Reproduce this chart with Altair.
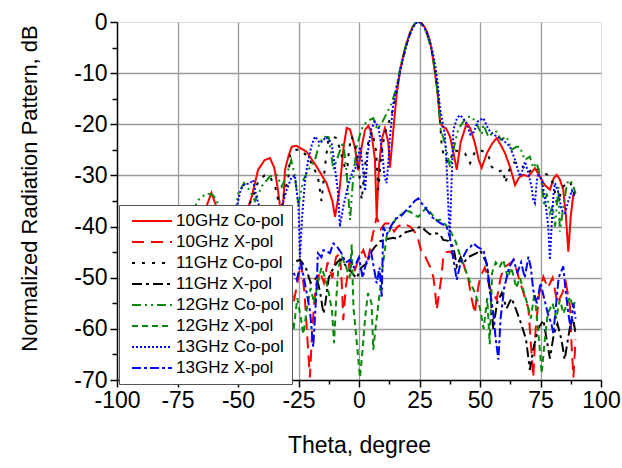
import altair as alt
import pandas as pd

# ---------------- data ----------------
names = ["10GHz Co-pol", "10GHz X-pol", "11GHz Co-pol", "11GHz X-pol",
         "12GHz Co-pol", "12GHz X-pol", "13GHz Co-pol", "13GHz X-pol"]
colors = ["#ff0000", "#ff0000", "#000000", "#000000",
          "#0a8a0a", "#0a8a0a", "#0000ff", "#0000ff"]
dashes = [[1, 0], [12, 7], [3, 7], [10, 4, 3, 4],
          [9, 4, 2, 4, 2, 4], [6, 4], [2, 2], [9, 3, 3, 3]]

theta_10co = [-90, -85, -80, -75, -70, -66, -63, -61, -59, -57, -54, -50, -47, -44.3, -41.7, -39, -36.8, -35,
              -33.5, -32.6, -32, -31, -30.6, -29, -27.8, -26, -24.4, -21.6, -17.5, -13.4, -11, -9.9, -8.8, -7.9,
              -6.5, -5.1, -3.7, -1.7, -0.3, 1.1, 2.5, 3.9, 5.2, 6.6, 7.3, 8.3, 9.4, 10.7, 12.1, 12.8, 14.2, 15.6,
              17, 18, 19, 20, 21, 22, 23, 24, 25, 26, 27, 28, 29, 30, 31.4, 32.5, 33.5, 34.5, 36, 37.6, 39, 40.4,
              42, 44.5, 46, 47.9, 49.5, 50.7, 52.8, 55, 56.9, 58.5, 60.3, 62.5, 64.5, 66, 67.9, 70, 72.7, 74.5,
              76.8, 78.9, 80.5, 81.7, 83, 84.4, 85.5, 86.5, 87.5, 88.5, 89.2]
db_10co = [-50, -45, -52, -42, -48, -40, -36, -33.4, -36, -45, -55, -42, -38, -34.1, -28.9, -27, -26.6, -28.5,
           -32.8, -36.2, -40, -33, -28.9, -26, -24.4, -24.2, -24.6, -25.4, -28.3, -31.5, -35, -38.1, -35, -32.2,
           -25, -20.7, -21, -24.5, -29, -24.4, -21.1, -20.3, -21.8, -27, -38, -28, -23, -20.8, -23.5, -28.5, -21,
           -14, -9.5, -7.2, -5.2, -3.6, -2.2, -1.1, -0.4, 0, 0, -0.3, -0.9, -1.8, -3.2, -5.4, -10, -14, -19.5,
           -20.5, -20.8, -22.4, -25.5, -28.9, -23.5, -19.8, -20.8, -23.7, -27, -28.5, -25.7, -23.8, -22.7, -24,
           -25.6, -28.5, -31.9, -30.5, -29.9, -30.2, -28.6, -30, -31.9, -32.8, -30.5, -29.9, -30.8, -32.8, -38,
           -44.9, -38, -34, -33.2]

theta_10x = [-90, -86, -82, -78, -74, -70, -66, -62, -58, -54, -50, -46, -42, -38, -34, -31, -29, -27, -25.5,
             -24, -22.5, -21.3, -20.3, -19.3, -18, -16.1, -14.5, -13, -11, -9.5, -7.9, -7, -6.5, -5.5, -4, -2, 0,
             1.8, 3.5, 5.5, 7.3, 9, 10.7, 12.8, 14.5, 16, 18.3, 21.1, 23, 24.5, 25.9, 27.5, 29.3, 30.7, 31.4,
             32.1, 32.8, 34.1, 34.8, 36, 37.6, 40, 43.1, 45.2, 46.5, 47.9, 48.6, 50, 52, 54, 56.9, 58.5, 60, 62.4,
             64, 66, 68, 70, 71.3, 72, 73, 74.5, 76.2, 78, 80, 82, 84, 85.5, 87.2, 87.8, 88.6, 89.5]
db_10x = [-60, -66, -58, -62, -55, -60, -52, -57, -50, -55, -52, -58, -50, -54, -48, -52, -49, -55, -51, -47,
          -53, -62, -69.5, -60, -52, -48.8, -51, -47, -50, -46, -45.2, -52, -58.3, -52, -47, -49, -46, -44.6, -47,
          -42, -38.1, -40.5, -39.4, -39.4, -41, -40, -39.4, -40, -41, -42.6, -45.2, -46, -47.8, -49.8, -52.4,
          -56.3, -54, -49.8, -46, -45, -44.9, -46, -47.2, -50.4, -54, -57, -53.7, -50, -48, -52, -54.3, -50, -48,
          -47.2, -46.5, -50, -53, -56, -64.8, -69.5, -60, -53, -49.8, -52, -50, -55, -53, -51, -55.7, -62.8,
          -69.5, -62]

theta_11co = [-90, -84, -78, -72, -66, -62, -58, -54, -50, -47, -45, -43, -41.7, -39, -36.8, -34, -32.5, -30.6,
              -29.3, -28.5, -26.5, -23.7, -20.3, -17, -15.5, -14, -12.7, -10.5, -9.2, -6.6, -5.1, -4, -3, -1, 0.2,
              1.1, 2.5, 4, 5.5, 7, 8, 9, 10.5, 12, 13.5, 15, 16, 17, 18, 19, 20, 21, 22, 23, 24, 25, 26, 27, 28, 29,
              30, 31, 32, 33, 34.1, 34.8, 36, 37.5, 39, 41.7, 43.8, 45.9, 47.9, 50, 52, 53.4, 54.8, 56, 57.6, 59.5,
              60.5, 62, 64, 66.5, 68, 70, 72, 74.8, 76.5, 78.9, 80.5, 81.7, 83, 84.4, 86, 87.2, 88.5, 89.5]
db_11co = [-48, -42, -50, -44, -38, -37, -42, -40, -37, -36.5, -35.4, -33.2, -31.2, -30, -30.2, -33, -38, -32.5,
           -31.2, -26, -25, -25, -27, -30.2, -35, -28, -23.1, -22.5, -22.7, -27, -29.9, -24.5, -22.4, -25, -30,
           -34.8, -28, -23, -21.5, -25, -32.8, -27, -22, -20, -18, -15, -12, -9.5, -7.5, -5.6, -3.9, -2.4, -1.2,
           -0.4, 0, -0.1, -0.4, -1.1, -2.1, -3.6, -5.5, -8, -11.5, -16, -23.7, -25.7, -27, -27.5, -25, -25.4,
           -25.7, -27.6, -25.4, -25, -25.5, -26, -28.3, -28.8, -29.3, -28.9, -31.5, -29, -27.5, -27.6, -28.5,
           -29.5, -28.5, -28.9, -29.5, -30.2, -32, -35.4, -34, -32.2, -31.5, -31.2, -33, -34]

theta_11x = [-90, -86, -82, -78, -74, -70, -66, -62, -58, -54, -50, -46, -42, -38, -34, -31, -28.5, -26.5, -24.4,
             -22, -20, -18.2, -17.5, -16, -14.7, -14.1, -12.5, -10.5, -9, -7.9, -7.2, -5, -3, -1, 1, 3.2, 5, 6.5,
             8.7, 11, 14.2, 16, 18.3, 20, 22.4, 23.9, 25.9, 27.5, 29.3, 31.5, 33.5, 34.8, 36.9, 39, 40.4, 42, 43.1,
             45, 48.6, 50, 52.8, 54.1, 55.5, 57, 59, 61, 63, 65.1, 67, 69, 70.6, 72, 74, 76.2, 77.5, 78.9, 80.5,
             82, 83.7, 85, 86, 87.2, 88.5, 89.5]
db_11x = [-62, -57, -64, -56, -60, -54, -58, -52, -56, -50, -53, -49, -52, -48, -50, -47, -47.8, -46.9, -46.5,
          -48, -51, -50.4, -49.8, -53, -57, -55.7, -50, -48, -47, -46.5, -46.5, -48, -49, -50.1, -48, -47.2, -45,
          -44, -42.9, -42.5, -42.2, -42.4, -41.3, -41, -40.7, -40.3, -40, -40.8, -41.5, -41.3, -41.5, -42.6,
          -42.8, -43.9, -47.8, -46, -47.2, -46, -45.2, -44.6, -47.2, -52.4, -60, -55, -53, -56, -54, -56.5, -59,
          -62, -68, -64, -60, -58.3, -62, -65.8, -61, -59, -62.2, -66, -63, -59.6, -58, -61]

theta_12co = [-90, -85, -80, -75, -70, -66.4, -63, -60.5, -58.8, -57, -54, -51, -49.9, -47.5, -45, -43, -40,
              -36.8, -34, -31.9, -30, -28, -26.5, -25.1, -23, -20.9, -18.2, -16.5, -14.7, -12.5, -10.6, -8.5,
              -6.5, -5, -3.7, -2.5, -1, 1, 3, 5.9, 7.5, 9.4, 11.4, 13.5, 15, 16, 17, 18, 19, 20, 21, 22, 23, 24, 25,
              26, 27, 28, 29, 30, 31, 32, 33, 33.5, 35.5, 37.6, 39.5, 41, 43.1, 45, 46.6, 48.5, 50.7, 51.4, 53.5,
              55, 56.9, 58.5, 61, 63, 65.1, 66.5, 68.5, 70.6, 72, 73.4, 75.5, 76.5, 77.6, 78.9, 80, 81, 82.4, 83,
              84.5, 86, 87.2, 88.6, 89.5]
db_12co = [-45, -40, -47, -40, -38, -34.8, -33.5, -33.8, -34.8, -38, -42, -37, -33.5, -31.5, -33, -35, -32,
           -30.2, -29.9, -32.2, -30, -27, -30, -35.8, -30.9, -28.9, -27, -24, -22.4, -22.5, -28.9, -26, -23.4,
           -30, -38.7, -31, -24.5, -21, -19.5, -18.8, -21, -19.8, -17.9, -15.9, -13.5, -11.5, -9, -7, -5.2, -3.6,
           -2.2, -1.1, -0.4, 0, -0.1, -0.5, -1.2, -2.3, -3.8, -5.8, -8.3, -11.8, -16, -20.5, -23.7, -28.3, -24,
           -21, -19.5, -18.6, -18.5, -19.8, -22, -20.1, -22.5, -21.8, -21.4, -23, -22.4, -25, -24.4, -24.4, -27,
           -26.3, -28.5, -27.5, -31.2, -36, -33.5, -37.4, -36, -40, -32.2, -41, -36, -31.5, -30.9, -32.2, -33.5]

theta_12x = [-90, -86, -82, -78, -74, -70, -66, -62, -58, -54, -50, -47, -46, -45, -42, -38, -34, -31, -29, -27,
             -25.5, -24, -23, -21.5, -20, -18.5, -17, -15.5, -14, -12.5, -11.2, -10.3, -9.5, -8.5, -7, -5.1, -3.8,
             -3, -2.3, -1, 0.4, 1.5, 2.5, 3.7, 5.2, 5.9, 6.8, 8.7, 10, 11.4, 13.5, 15.6, 18, 19, 21.1, 23, 24.5,
             26.5, 28, 30, 32.1, 33.5, 35.5, 37.6, 40, 42, 44.5, 46, 48, 50, 51.5, 53, 54, 55, 56.5, 58, 59.6, 61.5,
             63, 65, 66.5, 67.9, 69.5, 71, 72.5, 74, 75.5, 76.8, 78, 80, 81.5, 83, 84.5, 86, 87.2, 88.5, 89.5]
db_12x = [-58, -64, -55, -61, -54, -59, -52, -58, -53, -60, -56, -63, -69.5, -62, -55, -60, -53, -58, -55, -60,
          -54, -58, -61, -56, -52, -55, -51, -48, -50, -53, -56.3, -62.8, -55, -47.8, -46, -48.2, -50, -43.5,
          -55.7, -62.2, -69.5, -64, -58, -53, -55, -64.1, -60, -52.4, -47, -42, -40, -38.1, -37.5, -36.8, -37.1,
          -37.8, -38.1, -37, -36.3, -37.5, -38.8, -38.7, -39.5, -40.7, -43, -46, -49.1, -51, -53, -56, -60, -54,
          -63, -49, -47, -48, -46.5, -50, -48, -52, -50, -52.4, -55, -58, -53, -60, -68.7, -62, -57, -55, -58,
          -54.3, -57, -55, -53.7, -56, -54]

theta_13co = [-90, -85, -80, -75, -70, -65, -60, -55, -52, -50.5, -49, -47.8, -45, -43.7, -42.5, -40, -37, -33,
              -30, -28, -26.5, -25, -24.4, -23.5, -22.3, -21, -19.5, -18.2, -16.1, -13.5, -11.3, -10, -8.5, -7.9,
              -6.5, -4.5, -2.5, -1, 0.4, 1.5, 2.5, 3.5, 5, 6.6, 8, 9.5, 10.5, 11.4, 12.2, 12.8, 14.2, 15.5, 16.5,
              17.5, 18.5, 19.5, 20.5, 21.5, 22.5, 23.5, 24.5, 25.5, 26.5, 27.5, 28.5, 29.5, 30.5, 31.5, 32.5, 33.5,
              34.5, 35.5, 36.2, 36.9, 37.5, 38.2, 39, 40.5, 41.7, 43, 44.5, 46, 47.5, 49, 50, 51.4, 53, 54.1, 56.9,
              59.6, 62.4, 64.5, 66.5, 67.5, 68.6, 70, 71.3, 72, 72.7, 73.5, 74.1, 75.5, 77, 78.2, 78.9, 79.8, 80.5,
              81, 82.5, 83.7, 85.1, 86.5, 88, 89.2]
db_13co = [-55, -48, -52, -45, -50, -42, -46, -40, -37, -36.1, -33, -31.9, -31.5, -30.9, -34, -38, -42, -38, -33,
           -30.5, -30, -36, -46, -38, -31, -27, -24, -22.4, -23.7, -22.5, -23.7, -28.3, -34, -40, -36.1, -32, -29,
           -28.3, -24.4, -28, -33, -26, -21, -19.5, -20.5, -25, -30, -31.5, -27, -22.4, -15.9, -13, -10.8, -8.6,
           -6.6, -4.8, -3.2, -1.9, -0.9, -0.2, 0, -0.2, -0.7, -1.5, -2.6, -4.1, -6, -8.5, -12, -17, -19.5, -22,
           -28, -36, -42, -32, -21.1, -18.8, -18.2, -18.8, -20, -22, -21.5, -19.5, -19.2, -18.8, -20.5, -21.4,
           -22.4, -23.1, -24.4, -27, -30.2, -29, -27.3, -29.6, -32.2, -34.8, -35.4, -31, -29.6, -30.9, -35, -40,
           -46.5, -38, -33, -31.5, -33.5, -36.8, -37.4, -35, -33, -34.5]

theta_13x = [-90, -86, -81.5, -78, -74, -70, -66, -62, -58, -54, -50, -46, -42, -38, -34, -31, -28, -25.7, -24,
             -22, -20.3, -18.9, -17.5, -17, -15.5, -14.7, -12, -10.6, -9, -7.5, -5.5, -3.7, -2, 0, 1.5, 3, 5, 7.3,
             8.5, 9.4, 10, 11.5, 13.5, 15, 16.9, 18.3, 20, 21.8, 23, 24.5, 26, 27.3, 28.5, 30, 32, 33.5, 36.2,
             37.5, 38.5, 40.4, 42, 44.5, 46, 47.2, 49, 51.4, 53, 54.1, 55.5, 56.5, 57.6, 58.5, 60, 62, 63.8, 65.5,
             67, 68.5, 70, 71, 72, 73.5, 75, 76.5, 78, 79.5, 80.3, 81.5, 82.5, 84.4, 85.5, 86.5, 87.5, 88.5, 89.5]
db_13x = [-64, -58, -69.5, -60, -56, -62, -55, -60, -54, -58, -52, -56, -50, -55, -49, -53, -48, -50.4, -47, -52,
          -56.3, -63.5, -52, -45.2, -46, -44.6, -45.2, -43.3, -44, -45, -47, -46.5, -48, -46, -50, -47, -45, -51.1,
          -48, -53.7, -40, -41.5, -39.7, -38.5, -38.1, -37.5, -36.5, -35.8, -35, -34.5, -35.5, -36.3, -37, -38.1,
          -38.8, -39.3, -40, -42, -45, -50.4, -47, -44.6, -44, -43.3, -44, -44.6, -48, -52.4, -57, -62, -66, -58,
          -52, -48, -46.5, -49, -47, -50, -45.9, -48, -52.4, -55, -51, -54, -57, -59, -60.9, -55, -50, -47.8,
          -53, -57, -60, -55, -58]

thetas = [theta_10co, theta_10x, theta_11co, theta_11x, theta_12co, theta_12x, theta_13co, theta_13x]
dbs = [db_10co, db_10x, db_11co, db_11x, db_12co, db_12x, db_13co, db_13x]

x_ticks = [-100 + 12.5 * i for i in range(17)]
y_ticks = [-70 + 5 * i for i in range(15)]

# ---------------- build table ----------------
rows = []
for k, (name, th, db) in enumerate(zip(names, thetas, dbs)):
    for t, v in zip(th, db):
        rows.append({"series": name, "theta": t, "db": v, "k": k})
df = pd.DataFrame(rows)

font = "Liberation Sans"

x_axis = alt.Axis(
    values=x_ticks,
    labelExpr="datum.value % 25 == 0 ? '' + datum.value : ''",
    tickSize={"condition": {"test": "datum.value % 25 == 0", "value": 7}, "value": 4},
    gridOpacity={"condition": {"test": "datum.value % 25 == 0 && abs(datum.value) < 100", "value": 1}, "value": 0},
    grid=True, gridColor="#9a9a9a", gridWidth=1.3,
    domainColor="#000000", domainWidth=1.5, tickColor="#000000", tickWidth=1.5,
    labelFontSize=23, labelColor="#000000", labelPadding=2, labelFont=font,
    titleFontSize=23, titleFontWeight="normal", titleColor="#000000", titlePadding=22, titleFont=font,
    labelFlush=False, labelOverlap=False,
)
y_axis = alt.Axis(
    values=y_ticks,
    labelExpr="datum.value % 10 == 0 ? '' + datum.value : ''",
    tickSize={"condition": {"test": "datum.value % 10 == 0", "value": 7}, "value": 5},
    gridOpacity={"condition": {"test": "datum.value % 10 == 0 && datum.value < 0 && datum.value > -70", "value": 1}, "value": 0},
    grid=True, gridColor="#9a9a9a", gridWidth=1.3,
    domainColor="#000000", domainWidth=1.5, tickColor="#000000", tickWidth=1.5,
    labelFontSize=23, labelColor="#000000", labelPadding=3, labelFont=font,
    titleFontSize=22, titleFontWeight="normal", titleColor="#000000", titlePadding=32, titleFont=font,
    titleY=166, labelFlush=False, labelOverlap=False,
)

legend = alt.Legend(
    orient="none", legendX=2, legendY=183,
    fillColor="#ffffff", strokeColor="#555555", padding=8, cornerRadius=0,
    symbolType="stroke", symbolSize=1600, symbolStrokeWidth=2, symbolOffset=4,
    labelFontSize=17, labelFont=font, labelColor="#000000", labelOffset=3,
    clipHeight=16, rowPadding=4, labelLimit=300,
)

chart = alt.Chart(df).mark_line(strokeWidth=2, clip=True).encode(
    x=alt.X("theta:Q", scale=alt.Scale(domain=[-100, 100], nice=False, zero=False),
            axis=x_axis, title="Theta, degree"),
    y=alt.Y("db:Q", scale=alt.Scale(domain=[-70, 0], nice=False, zero=False),
            axis=y_axis, title="Normalized Radiation Pattern, dB"),
    color=alt.Color("series:N", scale=alt.Scale(domain=names, range=colors), title=None, legend=legend),
    strokeDash=alt.StrokeDash("series:N", scale=alt.Scale(domain=names, range=dashes), title=None,
                              legend=legend),
    order=alt.Order("theta:Q"),
).properties(
    width=484, height=358,
    autosize=alt.AutoSizeParams(type="none"),
    padding={"left": 117, "top": 22, "right": 21, "bottom": 88},
).configure_view(
    stroke="transparent"
).configure(font=font, background="white")

chart.save("out.html", embed_options={"renderer": "svg", "actions": False})
